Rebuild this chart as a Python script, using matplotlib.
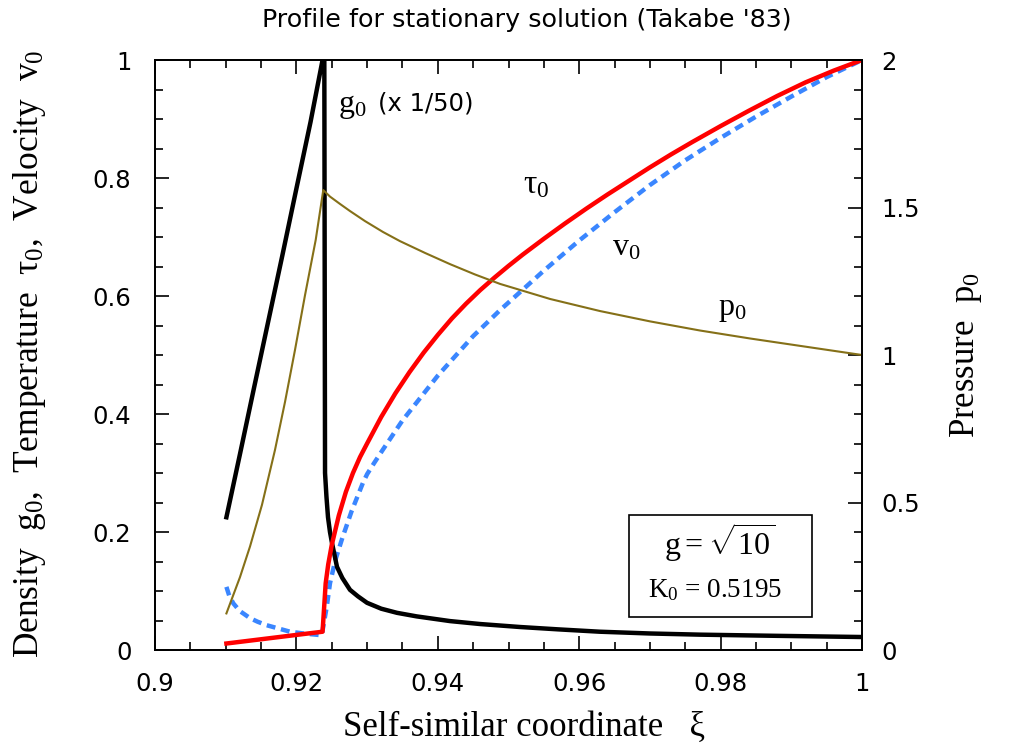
import matplotlib
matplotlib.use("Agg")
import matplotlib.pyplot as plt
from matplotlib.patches import Rectangle
from matplotlib.ticker import MultipleLocator

plt.rcParams['mathtext.fontset'] = 'custom'
plt.rcParams['mathtext.rm'] = 'Liberation Serif'
plt.rcParams['mathtext.it'] = 'Liberation Serif'
plt.rcParams['mathtext.bf'] = 'Liberation Serif:bold'

# ---- data ----
# density g0 (divided by 50)
xi_g = [0.9101, 0.912, 0.914, 0.916, 0.918, 0.920, 0.922, 0.9237, 0.92395, 0.92405,
        0.92425, 0.92447, 0.92475, 0.92504, 0.92574, 0.9265, 0.92758, 0.9287, 0.92999,
        0.932, 0.93423, 0.937, 0.94173, 0.946, 0.9516, 0.957, 0.9629, 0.970, 0.9771,
        0.988, 1.0]
g0_scaled = [0.225, 0.331, 0.444, 0.556, 0.668, 0.782, 0.895, 1.0, 1.0, 0.30,
             0.26, 0.225, 0.200, 0.181, 0.141, 0.122, 0.102, 0.091, 0.080,
             0.070, 0.063, 0.057, 0.049, 0.044, 0.039, 0.035, 0.031, 0.028, 0.026,
             0.024, 0.022]

# temperature tau0
xi_t = [0.9101, 0.9237, 0.92414, 0.9245, 0.925, 0.926, 0.927, 0.928, 0.929, 0.930,
        0.932, 0.934, 0.936, 0.938, 0.940, 0.942, 0.944, 0.946, 0.948, 0.950, 0.952,
        0.955, 0.958, 0.961, 0.964, 0.967, 0.970, 0.973, 0.976, 0.980, 0.984, 0.988,
        0.992, 0.996, 1.0]
tau0 = [0.011, 0.031, 0.113, 0.145, 0.178, 0.228, 0.268, 0.300, 0.327, 0.350,
        0.395, 0.435, 0.471, 0.504, 0.534, 0.562, 0.587, 0.610, 0.631, 0.651, 0.670,
        0.697, 0.723, 0.748, 0.772, 0.795, 0.818, 0.840, 0.861, 0.888, 0.914, 0.939,
        0.962, 0.982, 1.0]

# velocity v0
xi_v = [0.9101, 0.9105, 0.91108, 0.912, 0.91344, 0.9145, 0.9158, 0.917, 0.9191, 0.921,
        0.92358, 0.92429, 0.92475, 0.9255, 0.9265, 0.9278, 0.9294, 0.930, 0.931, 0.9322,
        0.935, 0.940, 0.945, 0.9488, 0.955, 0.960, 0.965, 0.970, 0.975, 0.980, 0.985,
        0.990, 0.995, 1.0]
v0 = [0.107, 0.092, 0.079, 0.066, 0.054, 0.048, 0.042, 0.038, 0.031, 0.028,
      0.025, 0.073, 0.113, 0.152, 0.190, 0.235, 0.283, 0.298, 0.317, 0.339,
      0.389, 0.465, 0.532, 0.576, 0.643, 0.694, 0.742, 0.788, 0.830, 0.868, 0.904,
      0.938, 0.971, 1.0]

# pressure p0 (right axis)
xi_p = [0.9101, 0.91202, 0.91344, 0.91513, 0.91697, 0.91839, 0.9198, 0.92122, 0.92273,
        0.9238, 0.92475, 0.92617, 0.92758, 0.9297, 0.93225, 0.93465, 0.93819, 0.94173,
        0.94526, 0.9488, 0.95587, 0.96294, 0.97001, 0.97709, 0.98416, 0.99123, 1.0]
p0 = [0.124, 0.247, 0.351, 0.492, 0.678, 0.841, 1.017, 1.203, 1.390,
      1.559, 1.537, 1.512, 1.488, 1.454, 1.417, 1.386, 1.346, 1.308,
      1.273, 1.241, 1.190, 1.149, 1.114, 1.083, 1.056, 1.031, 1.0]

x_ticks = [0.9, 0.92, 0.94, 0.96, 0.98, 1.0]
x_ticklabels = ['0.9', '0.92', '0.94', '0.96', '0.98', '1']
yl_ticks = [0, 0.2, 0.4, 0.6, 0.8, 1.0]
yl_ticklabels = ['0', '0.2', '0.4', '0.6', '0.8', '1']
yr_ticks = [0, 0.5, 1.0, 1.5, 2.0]
yr_ticklabels = ['0', '0.5', '1', '1.5', '2']

# ---- figure ----
W, H = 1021, 748
fig = plt.figure(figsize=(W / 100, H / 100), dpi=100)
ax = fig.add_axes([155 / W, 1 - 650 / H, 707 / W, 590 / H])
ax2 = ax.twinx()

ax.plot(xi_g, g0_scaled, color='black', lw=3.2, solid_joinstyle='miter', zorder=3)
ax.plot(xi_v, v0, color='#3a86ff', lw=3.2, dashes=(2.0, 1.3), zorder=2)
ax.plot(xi_t, tau0, color='#ff0000', lw=3.2, zorder=4)
ax2.plot(xi_p, p0, color='#857018', lw=1.5)

ax.set_xlim(0.9, 1.0)
ax.set_ylim(0, 1)
ax2.set_ylim(0, 2)

sans = 'DejaVu Sans'
serif = 'Liberation Serif'
tfs = 17.5

ax.set_xticks(x_ticks)
ax.set_xticklabels(x_ticklabels, fontfamily=sans, fontsize=tfs)
ax.set_yticks(yl_ticks)
ax.set_yticklabels(yl_ticklabels, fontfamily=sans, fontsize=tfs)
ax2.set_yticks(yr_ticks)
ax2.set_yticklabels(yr_ticklabels, fontfamily=sans, fontsize=tfs)
ax.xaxis.set_minor_locator(MultipleLocator(0.005))
ax.yaxis.set_minor_locator(MultipleLocator(0.05))
ax2.yaxis.set_minor_locator(MultipleLocator(0.1))

ax.tick_params(axis='x', which='both', direction='in', top=True, bottom=True, pad=16)
ax.tick_params(axis='y', which='both', direction='in', left=True, right=False, pad=17)
ax2.tick_params(axis='y', which='both', direction='in', right=True, pad=14)
for a in (ax, ax2):
    a.tick_params(which='major', length=10, width=1.2)
    a.tick_params(which='minor', length=6, width=1.2)
    for s in a.spines.values():
        s.set_linewidth(1.3)

# titles and labels
fig.text(527 / W, 1 - 20 / H, "Profile for stationary solution (Takabe '83)",
         ha='center', va='center', fontfamily=sans, fontsize=18.3)
fig.text(343 / W, 1 - 736 / H, 'Self-similar coordinate   \u03be',
         ha='left', va='baseline', fontfamily=serif, fontsize=25)
fig.text(30 / W, 1 - 354 / H,
         r'Density  $g_0$,  Temperature  $\tau_0$,  Velocity  $v_0$',
         rotation=90, ha='center', va='center', fontfamily=serif, fontsize=25.5)
fig.text(966 / W, 1 - 355 / H, r'Pressure  $p_0$',
         rotation=90, ha='center', va='center', fontfamily=serif, fontsize=25)

# in-plot annotations
ax.text(0.92588, 0.912, r'$g_0$', fontfamily=serif, fontsize=23, va='baseline')
ax.text(0.93149, 0.915, '(x 1/50)', fontfamily=sans, fontsize=17.5, va='baseline')
ax.text(0.95205, 0.775, r'$\tau_0$', fontfamily=serif, fontsize=24, va='baseline')
ax.text(0.96464, 0.669, r'$v_0$', fontfamily=serif, fontsize=23, va='baseline')
ax.text(0.97963, 0.568, r'$p_0$', fontfamily=serif, fontsize=23, va='baseline')

ax.add_patch(Rectangle((0.6704, 0.0559), 0.2588, 0.1729, transform=ax.transAxes,
                       fill=False, edgecolor='black', lw=1.2, zorder=6))
ax.text(0.7197, 0.161, r'$g = \sqrt{10}$', transform=ax.transAxes,
        fontfamily=serif, fontsize=23, va='baseline', zorder=7)
ax.text(0.6973, 0.0898, r'$K_0$ = 0.5195', transform=ax.transAxes,
        fontfamily=serif, fontsize=19.5, va='baseline', zorder=7)

fig.savefig('out.png', dpi=100)
